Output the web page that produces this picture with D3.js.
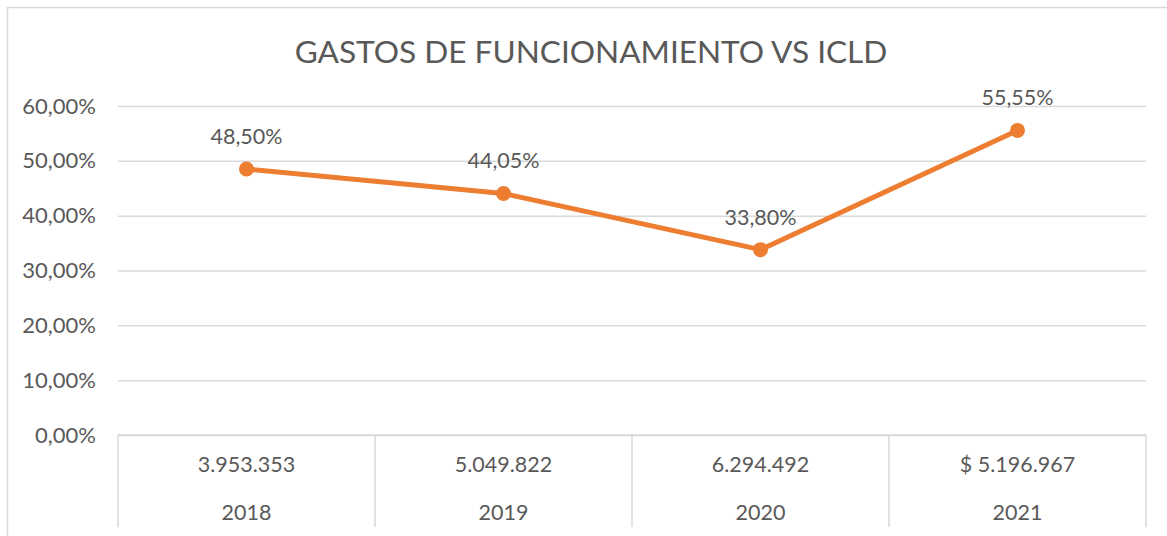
<!DOCTYPE html>
<html>
<head>
<meta charset="utf-8">
<script src="https://cdn.jsdelivr.net/npm/d3@7"></script>
<style>
  html, body { margin: 0; padding: 0; background: #fff; }
  svg { display: block; }
  text { font-family: Lato, "Open Sans", sans-serif; fill: #595959; }
</style>
</head>
<body>
<svg id="chart" width="1167" height="536"></svg>
<script>
// Gastos de funcionamiento como porcentaje de los ICLD
const years = ["2018", "2019", "2020", "2021"];
const amounts = ["3.953.353", "5.049.822", "6.294.492", "$ 5.196.967"];
const ratios = [48.50, 44.05, 33.80, 55.55];
const yTicks = [0, 10, 20, 30, 40, 50, 60];
const title = "GASTOS DE FUNCIONAMIENTO VS ICLD";

const W = 1167, H = 536;
const margin = { left: 118, right: 1146, top: 106, bottom: 435 };
const svg = d3.select("#chart");
const labelSize = "21.5px";

const fmtPct = v => v.toFixed(2).replace(".", ",") + "%";

// chart frame
svg.append("rect")
  .attr("x", 7.5).attr("y", 7.5)
  .attr("width", W + 20).attr("height", H + 20)
  .attr("fill", "none").attr("stroke", "#d9d9d9").attr("stroke-width", 1.5);

svg.append("text")
  .attr("x", 591).attr("y", 63)
  .attr("text-anchor", "middle")
  .style("font-size", "31.6px")
  .text(title);

const x = d3.scaleBand().domain(years).range([margin.left, margin.right]).padding(0);
const y = d3.scaleLinear().domain([0, 60]).range([margin.bottom, margin.top]);

// horizontal gridlines and percentage labels
const yAxis = d3.axisLeft(y).tickValues(yTicks)
  .tickSize(-(margin.right - margin.left))
  .tickPadding(22)
  .tickFormat(d => fmtPct(d));
const gy = svg.append("g").attr("transform", `translate(${margin.left},0)`).call(yAxis);
gy.select(".domain").remove();
gy.selectAll(".tick line").attr("stroke", "#d9d9d9").attr("stroke-width", 1.5);
gy.selectAll(".tick text").style("font-size", "22px").attr("fill", "#595959");

// two-level category axis: amount row and year row, separated by vertical rules
const axisBottom = 527;
const gx = svg.append("g");
gx.append("line")
  .attr("x1", margin.left).attr("x2", margin.right)
  .attr("y1", margin.bottom).attr("y2", margin.bottom)
  .attr("stroke", "#d9d9d9").attr("stroke-width", 1.5);
const edges = years.map(d => x(d)).concat([x(years[years.length - 1]) + x.bandwidth()]);
gx.selectAll("line.sep").data(edges).join("line")
  .attr("class", "sep")
  .attr("x1", d => d).attr("x2", d => d)
  .attr("y1", margin.bottom).attr("y2", axisBottom)
  .attr("stroke", "#d9d9d9").attr("stroke-width", 1.5);
gx.selectAll("text.amt").data(years).join("text")
  .attr("class", "amt")
  .attr("x", d => x(d) + x.bandwidth() / 2)
  .attr("y", 472)
  .attr("text-anchor", "middle")
  .style("font-size", labelSize)
  .text((d, i) => amounts[i]);
gx.selectAll("text.yr").data(years).join("text")
  .attr("class", "yr")
  .attr("x", d => x(d) + x.bandwidth() / 2)
  .attr("y", 520)
  .attr("text-anchor", "middle")
  .style("font-size", labelSize)
  .text(d => d);

// series
const pts = years.map((d, i) => ({ x: x(d) + x.bandwidth() / 2, v: ratios[i] }));
svg.append("path")
  .datum(pts)
  .attr("fill", "none")
  .attr("stroke", "#ed7d31")
  .attr("stroke-width", 5)
  .attr("stroke-linejoin", "round")
  .attr("d", d3.line().x(d => d.x).y(d => y(d.v)));
svg.selectAll("circle.pt").data(pts).join("circle")
  .attr("class", "pt")
  .attr("cx", d => d.x).attr("cy", d => y(d.v))
  .attr("r", 7.5)
  .attr("fill", "#ed7d31");
svg.selectAll("text.lbl").data(pts).join("text")
  .attr("class", "lbl")
  .attr("x", d => d.x).attr("y", d => y(d.v) - 25)
  .attr("text-anchor", "middle")
  .style("font-size", labelSize)
  .text(d => fmtPct(d.v));
</script>
</body>
</html>
